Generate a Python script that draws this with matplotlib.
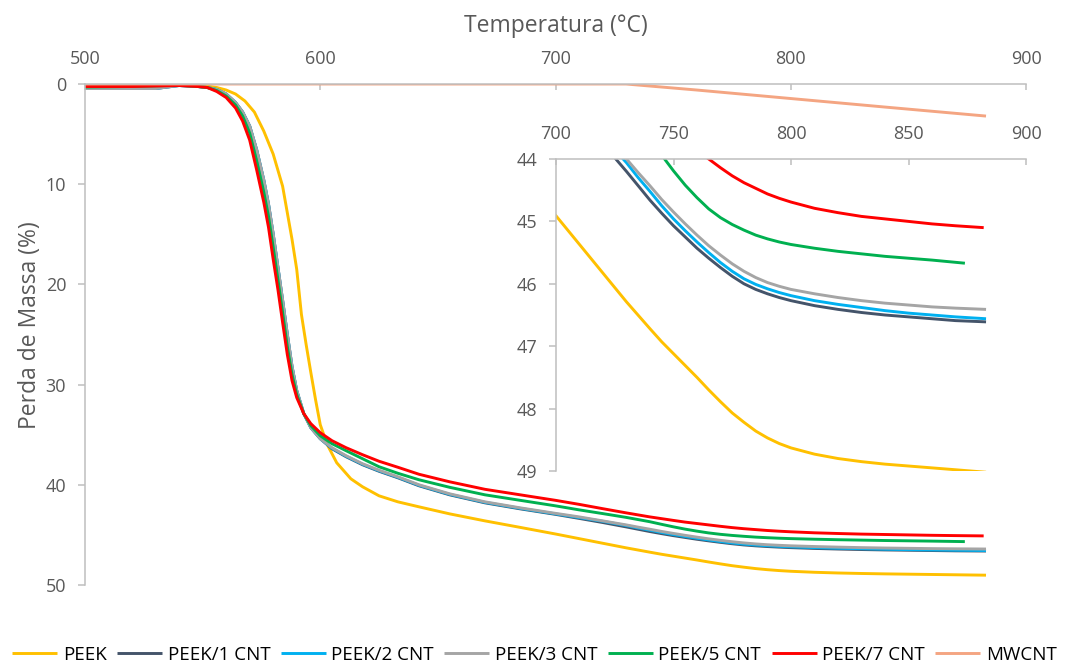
import matplotlib
matplotlib.use('Agg')
import matplotlib.pyplot as plt

plt.rcParams['font.family'] = ['Open Sans', 'DejaVu Sans']

# ---------------- data ----------------
labels = ['PEEK', 'PEEK/1 CNT', 'PEEK/2 CNT', 'PEEK/3 CNT', 'PEEK/5 CNT', 'PEEK/7 CNT', 'MWCNT']
colors = ['#FFC000', '#44546A', '#00B0F0', '#A5A5A5', '#00B050', '#FF0000', '#F4A582']

peek_T = [500, 520, 540, 550, 556, 560, 564, 568, 572, 576, 580, 584, 588, 590, 592, 594, 596, 598, 600,
          603, 607, 613, 618, 625, 633, 642, 655, 670, 685, 700, 710, 720, 730, 740, 745, 750, 755, 760, 765,
          770, 775, 780, 785, 790, 795, 800, 810, 820, 830, 840, 850, 860, 870, 883]
peek_y = [0.2, 0.2, 0.1, 0.15, 0.35, 0.6, 1.0, 1.7, 2.8, 4.7, 7.0, 10.2, 15.5, 18.5, 23.0, 26.0, 28.8, 31.5, 34.0,
          36.0, 37.8, 39.4, 40.2, 41.1, 41.7, 42.2, 42.9, 43.6, 44.25, 44.91, 45.37, 45.83, 46.29, 46.72, 46.93,
          47.12, 47.31, 47.5, 47.7, 47.89, 48.07, 48.22, 48.36, 48.47, 48.56, 48.63, 48.73, 48.8, 48.85, 48.89,
          48.92, 48.95, 48.98, 49.02]

cnt7_T = [500, 520, 540, 548, 552, 556, 560, 564, 567, 570, 573, 576, 578, 580, 582, 584, 586, 588, 590, 593,
          596, 600, 605, 611, 618, 625, 633, 642, 655, 670, 685, 700, 710, 720, 730, 740, 750, 755, 760, 765,
          770, 775, 780, 785, 790, 795, 800, 810, 820, 830, 840, 850, 860, 870, 882]
cnt7_y = [0.25, 0.25, 0.15, 0.25, 0.35, 0.75, 1.35, 2.4, 3.7, 5.6, 8.6, 11.8, 14.3, 17.5, 20.5, 23.8, 27.0,
          29.6, 31.3, 32.9, 33.9, 34.8, 35.6, 36.3, 37.0, 37.65, 38.25, 38.95, 39.7, 40.45, 41.0, 41.55, 41.95,
          42.38, 42.8, 43.2, 43.55, 43.72, 43.86, 44.0, 44.14, 44.27, 44.38, 44.47, 44.56, 44.63, 44.69, 44.79,
          44.86, 44.92, 44.96, 45.0, 45.04, 45.07, 45.1]

cnt5_T = [500, 520, 540, 548, 552, 556, 560, 564, 567, 570, 573, 576, 578, 580, 582, 584, 586, 588, 590, 593,
          596, 600, 605, 611, 618, 625, 633, 642, 655, 670, 685, 700, 710, 720, 730, 740, 745, 750, 755, 760,
          765, 770, 775, 780, 785, 790, 795, 800, 810, 820, 830, 840, 850, 860, 874]
cnt5_y = [0.3, 0.25, 0.12, 0.25, 0.35, 0.65, 1.2, 2.1, 3.2, 4.9, 7.7, 10.8, 13.2, 16.3, 19.5, 22.8, 26.2, 29.0,
          31.0, 32.9, 34.1, 35.1, 35.9, 36.6, 37.4, 38.2, 38.85, 39.5, 40.25, 41.0, 41.55, 42.1, 42.5, 42.87,
          43.25, 43.68, 43.94, 44.19, 44.42, 44.62, 44.8, 44.94, 45.05, 45.14, 45.22, 45.28, 45.33, 45.37,
          45.43, 45.48, 45.52, 45.56, 45.59, 45.62, 45.67]

cnt3_T = [500, 530, 540, 548, 552, 556, 560, 564, 567, 570, 573, 576, 578, 580, 582, 584, 586, 588, 590, 593,
          596, 600, 605, 611, 618, 625, 633, 642, 655, 670, 685, 700, 710, 720, 730, 735, 740, 745, 750, 755,
          760, 765, 770, 775, 780, 785, 790, 795, 800, 810, 820, 830, 840, 850, 860, 870, 883]
cnt3_y = [0.45, 0.45, 0.15, 0.25, 0.35, 0.55, 1.0, 1.85, 2.8, 4.2, 6.6, 9.6, 12.0, 15.0, 18.3, 21.6, 25.0,
          28.2, 30.6, 32.9, 34.3, 35.4, 36.3, 37.1, 37.9, 38.55, 39.2, 40.0, 40.9, 41.7, 42.3, 42.85, 43.2,
          43.6, 44.0, 44.22, 44.43, 44.65, 44.85, 45.04, 45.22, 45.39, 45.54, 45.68, 45.8, 45.9, 45.98, 46.04,
          46.09, 46.16, 46.22, 46.27, 46.31, 46.34, 46.37, 46.39, 46.41]

cnt2_T = [500, 530, 540, 548, 552, 556, 560, 564, 567, 570, 573, 576, 578, 580, 582, 584, 586, 588, 590, 593,
          596, 600, 605, 611, 618, 625, 633, 642, 655, 670, 685, 700, 710, 720, 730, 735, 740, 745, 750, 755,
          760, 765, 770, 775, 780, 785, 790, 795, 800, 810, 820, 830, 840, 850, 860, 870, 883]
cnt2_y = [0.45, 0.45, 0.15, 0.25, 0.35, 0.55, 1.0, 1.85, 2.8, 4.2, 6.6, 9.6, 12.0, 15.0, 18.3, 21.6, 25.0,
          28.2, 30.6, 32.9, 34.3, 35.4, 36.35, 37.15, 37.95, 38.6, 39.25, 40.05, 40.95, 41.75, 42.35, 42.9, 43.27,
          43.64, 44.06, 44.3, 44.52, 44.75, 44.96, 45.15, 45.33, 45.5, 45.66, 45.8, 45.92, 46.01, 46.08, 46.14,
          46.19, 46.27, 46.33, 46.38, 46.43, 46.47, 46.5, 46.53, 46.56]

cnt1_T = [500, 530, 540, 548, 552, 556, 560, 564, 567, 570, 573, 576, 578, 580, 582, 584, 586, 588, 590, 593,
          596, 600, 605, 611, 618, 625, 633, 642, 655, 670, 685, 700, 710, 720, 725, 730, 735, 740, 745, 750,
          755, 760, 765, 770, 775, 780, 785, 790, 795, 800, 810, 820, 830, 840, 850, 860, 870, 883]
cnt1_y = [0.45, 0.45, 0.15, 0.25, 0.35, 0.55, 1.0, 1.85, 2.8, 4.2, 6.6, 9.6, 12.0, 15.0, 18.3, 21.6, 25.0,
          28.2, 30.6, 32.9, 34.3, 35.4, 36.4, 37.2, 38.0, 38.65, 39.3, 40.1, 41.0, 41.8, 42.4, 42.95, 43.35,
          43.76, 43.98, 44.2, 44.43, 44.66, 44.87, 45.07, 45.25, 45.43, 45.59, 45.74, 45.88, 46.0, 46.09, 46.16,
          46.22, 46.27, 46.35, 46.41, 46.46, 46.5, 46.53, 46.56, 46.59, 46.61]

mwcnt_T = [500, 600, 700, 730, 760, 800, 840, 883]
mwcnt_y = [0.0, 0.0, 0.0, 0.0, 0.6, 1.45, 2.3, 3.2]

series_T = [peek_T, cnt1_T, cnt2_T, cnt3_T, cnt5_T, cnt7_T, mwcnt_T]
series_y = [peek_y, cnt1_y, cnt2_y, cnt3_y, cnt5_y, cnt7_y, mwcnt_y]

main_xticks = [500, 600, 700, 800, 900]
main_yticks = [0, 10, 20, 30, 40, 50]
inset_xticks = [700, 750, 800, 850, 900]
inset_yticks = [44, 45, 46, 47, 48, 49]

# ---------------- style ----------------
W, H = 1069, 664
fig = plt.figure(figsize=(W / 100, H / 100), dpi=100)
spine_c = '#BFBFBF'
tick_c = '#595959'
lw = 2.1


def style(ax):
    ax.spines['right'].set_visible(False)
    ax.spines['bottom'].set_visible(False)
    for s in ('top', 'left'):
        ax.spines[s].set_color(spine_c)
        ax.spines[s].set_linewidth(1.1)
    ax.xaxis.tick_top()
    ax.tick_params(axis='x', direction='in', length=4.5, width=1.1, color=spine_c,
                   labelcolor=tick_c, labelsize=13, pad=11.5)
    ax.tick_params(axis='y', direction='out', length=5, width=1.1, color=spine_c,
                   labelcolor=tick_c, labelsize=13, pad=8.5)


# main axes
ax = fig.add_axes([85 / W, 1 - 585 / H, (1026 - 85) / W, (585 - 84) / H])
ax.set_facecolor('none')
for T, y, c, lab in zip(series_T, series_y, colors, labels):
    ax.plot(T, y, color=c, lw=lw, label=lab, solid_capstyle='butt')
ax.set_xlim(500, 900)
ax.set_ylim(50, 0)
ax.set_xticks(main_xticks)
ax.set_yticks(main_yticks)
style(ax)
ax.set_xlabel('Temperatura (°C)', fontsize=16.5, color=tick_c)
ax.xaxis.set_label_position('top')
ax.xaxis.set_label_coords(0.5, 1 + (84 - 32) / 501)
ax.set_ylabel('Perda de Massa (%)', fontsize=16.5, color=tick_c)
ax.yaxis.set_label_coords((42 - 85) / 941, 1 - (325 - 84) / 501)

# inset axes
axi = fig.add_axes([556 / W, 1 - 471 / H, (1026 - 556) / W, (471 - 159) / H])
axi.set_facecolor('white')
for T, y, c in zip(series_T[:-1], series_y[:-1], colors[:-1]):
    axi.plot(T, y, color=c, lw=lw, solid_capstyle='butt')
axi.set_xlim(700, 900)
axi.set_ylim(49, 44)
axi.set_xticks(inset_xticks)
axi.set_yticks(inset_yticks)
style(axi)

# legend
handles, labs = ax.get_legend_handles_labels()
fig.legend(handles, labs, loc='lower center', bbox_to_anchor=(0.5, 0.0), ncol=7, frameon=False,
           fontsize=13.5, handlelength=2.4, handletextpad=0.3, columnspacing=0.55,
           borderaxespad=0, borderpad=0, labelcolor='#000000')

fig.savefig('out.png', dpi=100, facecolor='white')
